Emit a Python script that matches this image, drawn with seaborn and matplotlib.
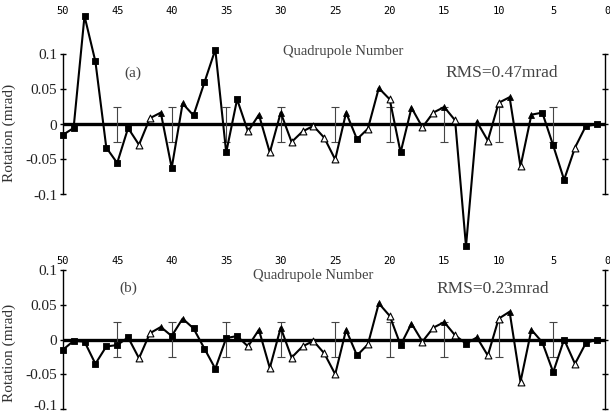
import matplotlib
matplotlib.use("Agg")
import matplotlib.pyplot as plt
import matplotlib.transforms as mtransforms
import seaborn as sns
import numpy as np
import pandas as pd

# quadrupole numbers, read right-to-left on the plot
quad = list(range(50, 0, -1))

# s = filled square, o = open triangle, f = filled triangle
marker_kind = ['s', 's', 's', 's', 's', 's', 's', 'o', 'o', 'f',
               's', 'f', 's', 's', 's', 's', 's', 'o', 'f', 'o',
               'f', 'o', 'o', 'o', 'o', 'o', 'f', 's', 'o', 'f',
               'o', 's', 'f', 'o', 'o', 'f', 'o', 's', 'f', 'o',
               'o', 'f', 'o', 'f', 's', 's', 's', 'o', 's', 's']

rot_a = [-0.015, -0.005, 0.155, 0.09, -0.033, -0.055, -0.005, -0.029, 0.009, 0.017,
         -0.062, 0.03, 0.013, 0.06, 0.107, -0.04, 0.036, -0.01, 0.014, -0.04,
         0.017, -0.025, -0.01, -0.002, -0.019, -0.05, 0.017, -0.021, -0.006, 0.052,
         0.036, -0.04, 0.024, -0.004, 0.017, 0.025, 0.006, -0.174, 0.004, -0.023,
         0.031, 0.039, -0.06, 0.014, 0.017, -0.03, -0.079, -0.033, -0.002, 0.0]

rot_b = [-0.015, -0.002, -0.003, -0.035, -0.01, -0.008, 0.003, -0.027, 0.009, 0.018,
         0.005, 0.03, 0.016, -0.013, -0.042, 0.002, 0.005, -0.01, 0.014, -0.041,
         0.017, -0.026, -0.01, -0.002, -0.02, -0.05, 0.014, -0.023, -0.007, 0.052,
         0.034, -0.008, 0.023, -0.003, 0.017, 0.025, 0.006, -0.006, 0.003, -0.023,
         0.03, 0.04, -0.061, 0.014, -0.004, -0.047, 0.0, -0.035, -0.005, 0.0]

tol_quad = [45, 40, 35, 30, 25, 20, 15, 10, 5]
tol_half = 0.025

x_ticks = [50, 45, 40, 35, 30, 25, 20, 15, 10, 5, 0]
y_ticks = [-0.1, -0.05, 0, 0.05, 0.1]
y_ticklabels = ['-0.1', '-0.05', '0', '0.05', '0.1']

panel_tag = ['(a)', '(b)']
rms_text = ['RMS=0.47mrad', 'RMS=0.23mrad']

sns.set_theme(style="white")
plt.rcParams['font.family'] = ['Liberation Serif', 'DejaVu Serif']

fig = plt.figure(figsize=(6.1, 4.15), dpi=100)
W, H = 610.0, 415.0
x_left, x_right = 62.7, 607.7

# axes positions in pixels (top, bottom) and matching y limits
ax_a = fig.add_axes([x_left / W, 1 - 250 / H, (x_right - x_left) / W, 232 / H])
ax_b = fig.add_axes([x_left / W, 1 - 414 / H, (x_right - x_left) / W, 146 / H])
ylims = [(-(250 - 124.5) / 700, (124.5 - 18) / 700), (-(414 - 339.5) / 695, (339.5 - 268) / 695)]

styles = {
    's': dict(marker='s', s=14, color='black', edgecolor='black', linewidth=0.6),
    'o': dict(marker='^', s=24, color='white', edgecolor='black', linewidth=0.8),
    'f': dict(marker='^', s=18, color='black', edgecolor='black', linewidth=0.6),
}

label_pos = [
    dict(quad=(24.3, 0.104), tag=(43.6, 0.073), rms=(9.7, 0.074), ylab=(-0.0857, 0.504)),
    dict(quad=(27.0, 0.092), tag=(44.0, 0.074), rms=(10.5, 0.072), ylab=(-0.0857, 0.418)),
]

for i, (ax, vals) in enumerate(zip([ax_a, ax_b], [rot_a, rot_b])):
    df = pd.DataFrame({'quad': quad, 'rotation': vals, 'kind': marker_kind})
    ax.set_xlim(50, 0)
    ax.set_ylim(*ylims[i])
    ax.set_facecolor('none')

    # zero reference line
    ax.plot([50, 0.25], [0, 0], color='black', lw=2.4, zorder=2, solid_capstyle='butt')

    # tolerance bars around zero
    ax.errorbar(tol_quad, [0] * len(tol_quad), yerr=tol_half, fmt='none',
                ecolor='#444444', elinewidth=0.8, capsize=2.8, capthick=0.8, zorder=3)

    sns.lineplot(data=df, x='quad', y='rotation', ax=ax, color='black', lw=1.5,
                 sort=False, estimator=None, zorder=4)
    for line in ax.get_lines():
        line.set_clip_on(False)

    for k, st in styles.items():
        sub = df[df['kind'] == k]
        sns.scatterplot(data=sub, x='quad', y='rotation', ax=ax, zorder=5,
                        clip_on=False, legend=False, **st)

    # spines
    ax.spines['top'].set_visible(False)
    ax.spines['bottom'].set_visible(False)
    for side in ['left', 'right']:
        ax.spines[side].set_visible(True)
        ax.spines[side].set_color('black')
        ax.spines[side].set_linewidth(1.0)
        ax.spines[side].set_bounds(-0.1, 0.1)
    ax.spines['right'].set_position(('data', 0.25))

    ax.set_yticks(y_ticks)
    ax.set_yticklabels(y_ticklabels)
    ax.tick_params(axis='y', which='both', left=True, right=True, direction='inout',
                   length=5, width=1.0, color='black', labelsize=11, pad=1.6,
                   labelcolor='#222222')

    ax.set_xticks(x_ticks)
    ax.set_xticklabels([str(t) for t in x_ticks], family='DejaVu Sans Mono')
    ax.tick_params(axis='x', top=True, bottom=False, labeltop=True, labelbottom=False,
                   length=0, labelsize=7.5, pad=1.5, labelcolor='black')

    ax.set_xlabel('')
    ax.set_ylabel('Rotation (mrad)', fontsize=11, color='#333333')
    ax.yaxis.set_label_coords(*label_pos[i]['ylab'])

    lp = label_pos[i]
    ax.text(*lp['quad'], 'Quadrupole Number', fontsize=10.5, color='#444444',
            ha='center', va='center')
    ax.text(*lp['tag'], panel_tag[i], fontsize=11, color='#444444',
            ha='center', va='center')
    ax.text(*lp['rms'], rms_text[i], fontsize=12.5, color='#444444',
            ha='center', va='center')

# lowest label of panel (b) sits at the bottom edge; lift it a few pixels
low_lab = ax_b.get_yticklabels()[0]
low_lab.set_transform(low_lab.get_transform() +
                      mtransforms.ScaledTranslation(0, 4 / 100, fig.dpi_scale_trans))

fig.savefig('out.png', dpi=100)
